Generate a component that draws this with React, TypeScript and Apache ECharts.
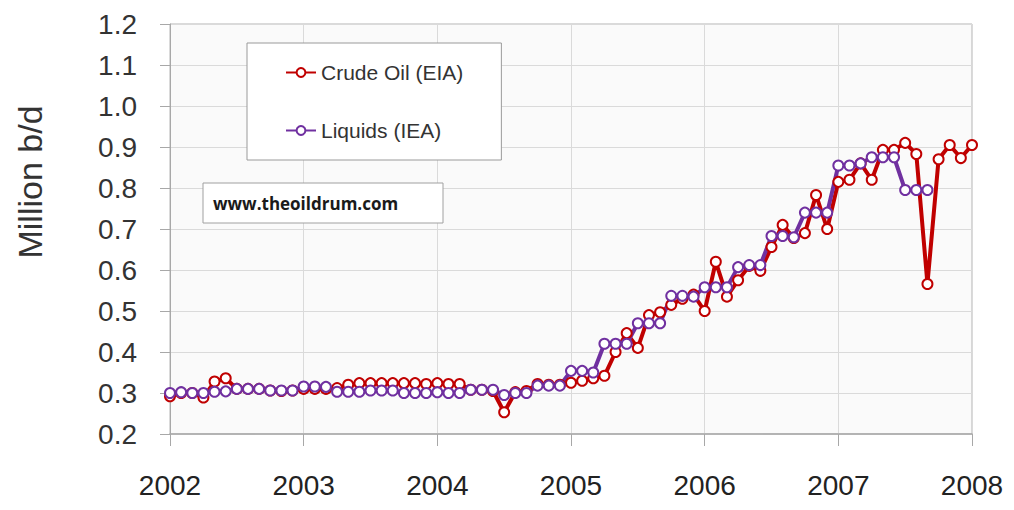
import React, { useEffect, useRef } from "react";
import * as echarts from "echarts";

// Monthly values, first value = January of startYear
const startYear = 2002;
const crudeOil = [
  // 2002
  0.292, 0.3, 0.3, 0.289, 0.328, 0.336, 0.31, 0.31, 0.31, 0.306, 0.305, 0.306,
  // 2003
  0.31, 0.31, 0.31, 0.312, 0.32, 0.324, 0.324, 0.324, 0.324, 0.324, 0.324, 0.322,
  // 2004
  0.324, 0.322, 0.322, 0.308, 0.308, 0.305, 0.253, 0.302, 0.305, 0.322, 0.32, 0.32,
  // 2005
  0.325, 0.33, 0.336, 0.342, 0.4, 0.446, 0.41, 0.49, 0.497, 0.515, 0.53, 0.54,
  // 2006
  0.5, 0.62, 0.535, 0.575, 0.61, 0.598, 0.656, 0.71, 0.678, 0.69, 0.783, 0.7,
  // 2007
  0.815, 0.82, 0.86, 0.82, 0.893, 0.893, 0.91, 0.883, 0.566, 0.87, 0.905, 0.873,
  // 2008
  0.905,
];
const liquids = [
  // 2002
  0.3, 0.302, 0.3, 0.3, 0.303, 0.304, 0.31, 0.31, 0.31, 0.306, 0.306, 0.306,
  // 2003
  0.316, 0.316, 0.315, 0.303, 0.303, 0.303, 0.306, 0.306, 0.306, 0.3, 0.3, 0.3,
  // 2004
  0.302, 0.3, 0.3, 0.308, 0.308, 0.308, 0.295, 0.3, 0.3, 0.318, 0.318, 0.318,
  // 2005
  0.354, 0.354, 0.35, 0.42, 0.42, 0.42, 0.47, 0.47, 0.47, 0.537, 0.537, 0.535,
  // 2006
  0.558, 0.558, 0.558, 0.607, 0.612, 0.612, 0.683, 0.683, 0.68, 0.74, 0.74, 0.74,
  // 2007
  0.855, 0.855, 0.86, 0.875, 0.875, 0.875, 0.795, 0.795, 0.795,
];
const seriesNames = ["Crude Oil (EIA)", "Liquids (IEA)"];
const seriesColors = ["#c00000", "#7030a0"];
const yAxisTitle = "Million b/d";
const watermark = "www.theoildrum.com";

const toPoints = (vals: number[]) =>
  vals.map((v, i) => [startYear + i / 12, v]);

export default function App() {
  const ref = useRef<HTMLDivElement>(null);

  useEffect(() => {
    if (!ref.current) return;
    const chart = echarts.init(ref.current, undefined, { renderer: "svg" });
    const font = "'Liberation Sans', Arial, Helvetica, sans-serif";
    chart.setOption({
      animation: false,
      backgroundColor: "#ffffff",
      textStyle: { fontFamily: font },
      grid: {
        left: 170,
        right: 42,
        top: 24,
        bottom: 76,
        show: true,
        backgroundColor: "#fafafa",
        borderColor: "#b5b5b5",
        borderWidth: 1,
      },
      legend: {
        data: seriesNames,
        orient: "vertical",
        left: 247,
        top: 43,
        padding: [19, 38, 19, 38],
        itemGap: 37,
        itemWidth: 30,
        itemHeight: 11,
        backgroundColor: "#ffffff",
        borderColor: "#9a9a9a",
        borderWidth: 1,
        textStyle: { fontSize: 21, color: "#333", fontFamily: font },
      },
      xAxis: {
        type: "value",
        min: 2002,
        max: 2008,
        interval: 1,
        axisLine: { show: true, lineStyle: { color: "#a8a8a8", width: 1.5 } },
        axisTick: { show: true, length: 12, lineStyle: { color: "#a8a8a8" } },
        splitLine: { show: true, lineStyle: { color: "#dadada" } },
        axisLabel: {
          margin: 37,
          fontSize: 28,
          color: "#222",
          fontFamily: "'Liberation Sans Narrow', 'Arial Narrow', " + font,
          formatter: (v: number) => String(v),
        },
      },
      yAxis: {
        type: "value",
        min: 0.2,
        max: 1.2,
        interval: 0.1,
        axisLine: { show: true, lineStyle: { color: "#a8a8a8" } },
        axisTick: { show: true, length: 10, lineStyle: { color: "#a8a8a8" } },
        splitLine: { show: true, lineStyle: { color: "#dadada" } },
        axisLabel: {
          margin: 33,
          fontSize: 28,
          color: "#333",
          formatter: (v: number) => v.toFixed(1),
        },
      },
      graphic: [
        {
          type: "text",
          x: 30,
          y: 182,
          rotation: Math.PI / 2,
          style: {
            text: yAxisTitle,
            fontSize: 34,
            fill: "#333",
            fontFamily: font,
            align: "center",
            verticalAlign: "middle",
          },
        },
        {
          type: "rect",
          shape: { x: 203, y: 183, width: 240, height: 40 },
          style: { fill: "#ffffff", stroke: "#a0a0a0", lineWidth: 1 },
          z: 10,
        },
        {
          type: "text",
          x: 213,
          y: 203,
          z: 11,
          style: {
            text: watermark,
            fontSize: 17,
            fontWeight: "bold",
            fill: "#1a1a1a",
            fontFamily: "'Open Sans', 'Noto Sans', sans-serif",
            align: "left",
            verticalAlign: "middle",
          },
        },
      ],
      series: [
        {
          name: seriesNames[0],
          type: "line",
          data: toPoints(crudeOil),
          symbol: "emptyCircle",
          symbolSize: 10,
          lineStyle: { color: seriesColors[0], width: 4 },
          itemStyle: { color: seriesColors[0], borderWidth: 1.2 },
        },
        {
          name: seriesNames[1],
          type: "line",
          data: toPoints(liquids),
          symbol: "emptyCircle",
          symbolSize: 10,
          lineStyle: { color: seriesColors[1], width: 4 },
          itemStyle: { color: seriesColors[1], borderWidth: 1.2 },
        },
      ],
    });
    return () => chart.dispose();
  }, []);

  return (
    <div
      ref={ref}
      style={{ position: "fixed", left: 0, top: 0, width: 1014, height: 510 }}
    />
  );
}
